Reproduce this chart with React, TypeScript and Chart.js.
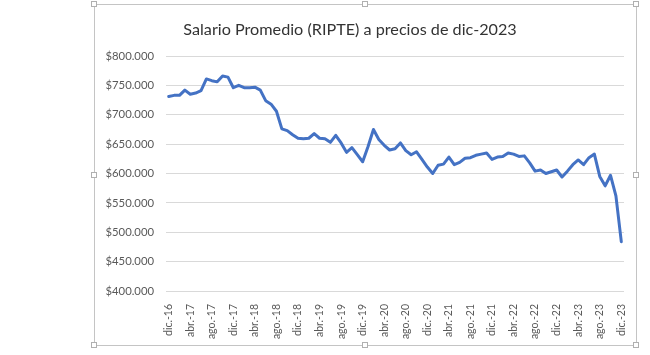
import React, { useEffect, useRef } from 'react';
import { Chart, registerables } from 'chart.js';

Chart.register(...registerables);

const TITLE = 'Salario Promedio (RIPTE) a precios de dic-2023';

const months: string[] = [
  'dic.-16',
  'ene.-17', 'feb.-17', 'mar.-17', 'abr.-17', 'may.-17', 'jun.-17', 'jul.-17', 'ago.-17', 'sep.-17', 'oct.-17', 'nov.-17', 'dic.-17',
  'ene.-18', 'feb.-18', 'mar.-18', 'abr.-18', 'may.-18', 'jun.-18', 'jul.-18', 'ago.-18', 'sep.-18', 'oct.-18', 'nov.-18', 'dic.-18',
  'ene.-19', 'feb.-19', 'mar.-19', 'abr.-19', 'may.-19', 'jun.-19', 'jul.-19', 'ago.-19', 'sep.-19', 'oct.-19', 'nov.-19', 'dic.-19',
  'ene.-20', 'feb.-20', 'mar.-20', 'abr.-20', 'may.-20', 'jun.-20', 'jul.-20', 'ago.-20', 'sep.-20', 'oct.-20', 'nov.-20', 'dic.-20',
  'ene.-21', 'feb.-21', 'mar.-21', 'abr.-21', 'may.-21', 'jun.-21', 'jul.-21', 'ago.-21', 'sep.-21', 'oct.-21', 'nov.-21', 'dic.-21',
  'ene.-22', 'feb.-22', 'mar.-22', 'abr.-22', 'may.-22', 'jun.-22', 'jul.-22', 'ago.-22', 'sep.-22', 'oct.-22', 'nov.-22', 'dic.-22',
  'ene.-23', 'feb.-23', 'mar.-23', 'abr.-23', 'may.-23', 'jun.-23', 'jul.-23', 'ago.-23', 'sep.-23', 'oct.-23', 'nov.-23', 'dic.-23',
];

const salario: number[] = [
  731000,
  733000, 733000, 742000, 735000, 737000, 741000, 761000, 758000, 756000, 766000, 764000, 746000,
  750000, 746000, 746000, 747000, 742000, 724000, 718000, 706000, 676000, 673000, 666000, 660000,
  659000, 660000, 668000, 660000, 659000, 653000, 665000, 652000, 636000, 644000, 632000, 620000,
  646000, 675000, 658000, 648000, 640000, 642000, 652000, 639000, 632000, 637000, 624000, 611000,
  600000, 614000, 616000, 628000, 615000, 619000, 626000, 627000, 631000, 633000, 635000, 624000,
  628000, 629000, 635000, 633000, 629000, 630000, 618000, 604000, 606000, 600000, 603000, 606000,
  594000, 604000, 615000, 623000, 615000, 627000, 633000, 595000, 579000, 597000, 562000, 484000,
];

const Y_MIN = 400000;
const Y_MAX = 800000;
const Y_STEP = 50000;
const LABEL_EVERY = 4;

const fmtPeso = (v: number) => '$' + Math.round(v / 1000) + '.000';

const handle = (left: number, top: number): React.CSSProperties => ({
  position: 'absolute',
  left: left - 3,
  top: top - 3,
  width: 6,
  height: 6,
  background: '#fff',
  border: '1px solid #b0b0b0',
  boxSizing: 'border-box',
});

// Draws the chart title centred where the original places it
const titlePlugin = {
  id: 'excelTitle',
  afterDraw(chart: any) {
    const ctx = chart.ctx;
    ctx.save();
    ctx.font = '16.2px Lato';
    ctx.fillStyle = '#333333';
    ctx.textAlign = 'center';
    ctx.textBaseline = 'middle';
    ctx.fillText(TITLE, 350, 30);
    ctx.restore();
  },
};

export default function App() {
  const ref = useRef<HTMLCanvasElement>(null);

  useEffect(() => {
    if (!ref.current) return;
    const chart = new Chart(ref.current, {
      type: 'line',
      data: {
        labels: months,
        datasets: [
          {
            data: salario,
            borderColor: '#4472C4',
            backgroundColor: '#4472C4',
            borderWidth: 3,
            pointRadius: 0,
            tension: 0,
            borderJoinStyle: 'round',
            borderCapStyle: 'round',
          },
        ],
      },
      plugins: [titlePlugin],
      options: {
        animation: false,
        responsive: false,
        maintainAspectRatio: false,
        layout: { padding: { left: 100, right: 26, top: 56, bottom: 14 } },
        plugins: {
          legend: { display: false },
          tooltip: { enabled: false },
          title: { display: false, text: TITLE },
        },
        scales: {
          x: {
            offset: true,
            grid: { display: false },
            border: { display: false },
            ticks: {
              autoSkip: false,
              maxRotation: 90,
              minRotation: 90,
              padding: 5,
              color: '#595959',
              font: { family: 'Lato', size: 10.5 },
              callback: (_v: any, i: number) => (i % LABEL_EVERY === 0 ? months[i] : null),
            },
            afterFit: (s: any) => {
              s.height = 50;
            },
          },
          y: {
            min: Y_MIN,
            max: Y_MAX,
            grid: { color: '#d9d9d9', lineWidth: 1, drawTicks: false },
            border: { display: false },
            ticks: {
              stepSize: Y_STEP,
              padding: 12,
              color: '#595959',
              font: { family: 'Lato', size: 11.3 },
              callback: (v: any) => fmtPeso(Number(v)),
            },
            afterFit: (s: any) => {
              s.width = 66;
            },
          },
        },
      },
    });
    return () => chart.destroy();
  }, []);

  return (
    <div style={{ position: 'absolute', left: 0, top: 0, width: 650, height: 355, background: '#fff', overflow: 'hidden' }}>
      <div
        style={{
          position: 'absolute',
          left: 94,
          top: 4,
          width: 543,
          height: 342,
          border: '1px solid #c4c4c4',
          boxSizing: 'border-box',
        }}
      />
      <canvas ref={ref} width={650} height={355} style={{ position: 'absolute', left: 0, top: 0, width: 650, height: 355 }} />
      <div style={handle(94, 4)} />
      <div style={handle(365, 4)} />
      <div style={handle(636, 4)} />
      <div style={handle(94, 175)} />
      <div style={handle(636, 175)} />
      <div style={handle(94, 345)} />
      <div style={handle(365, 345)} />
      <div style={handle(636, 345)} />
    </div>
  );
}
